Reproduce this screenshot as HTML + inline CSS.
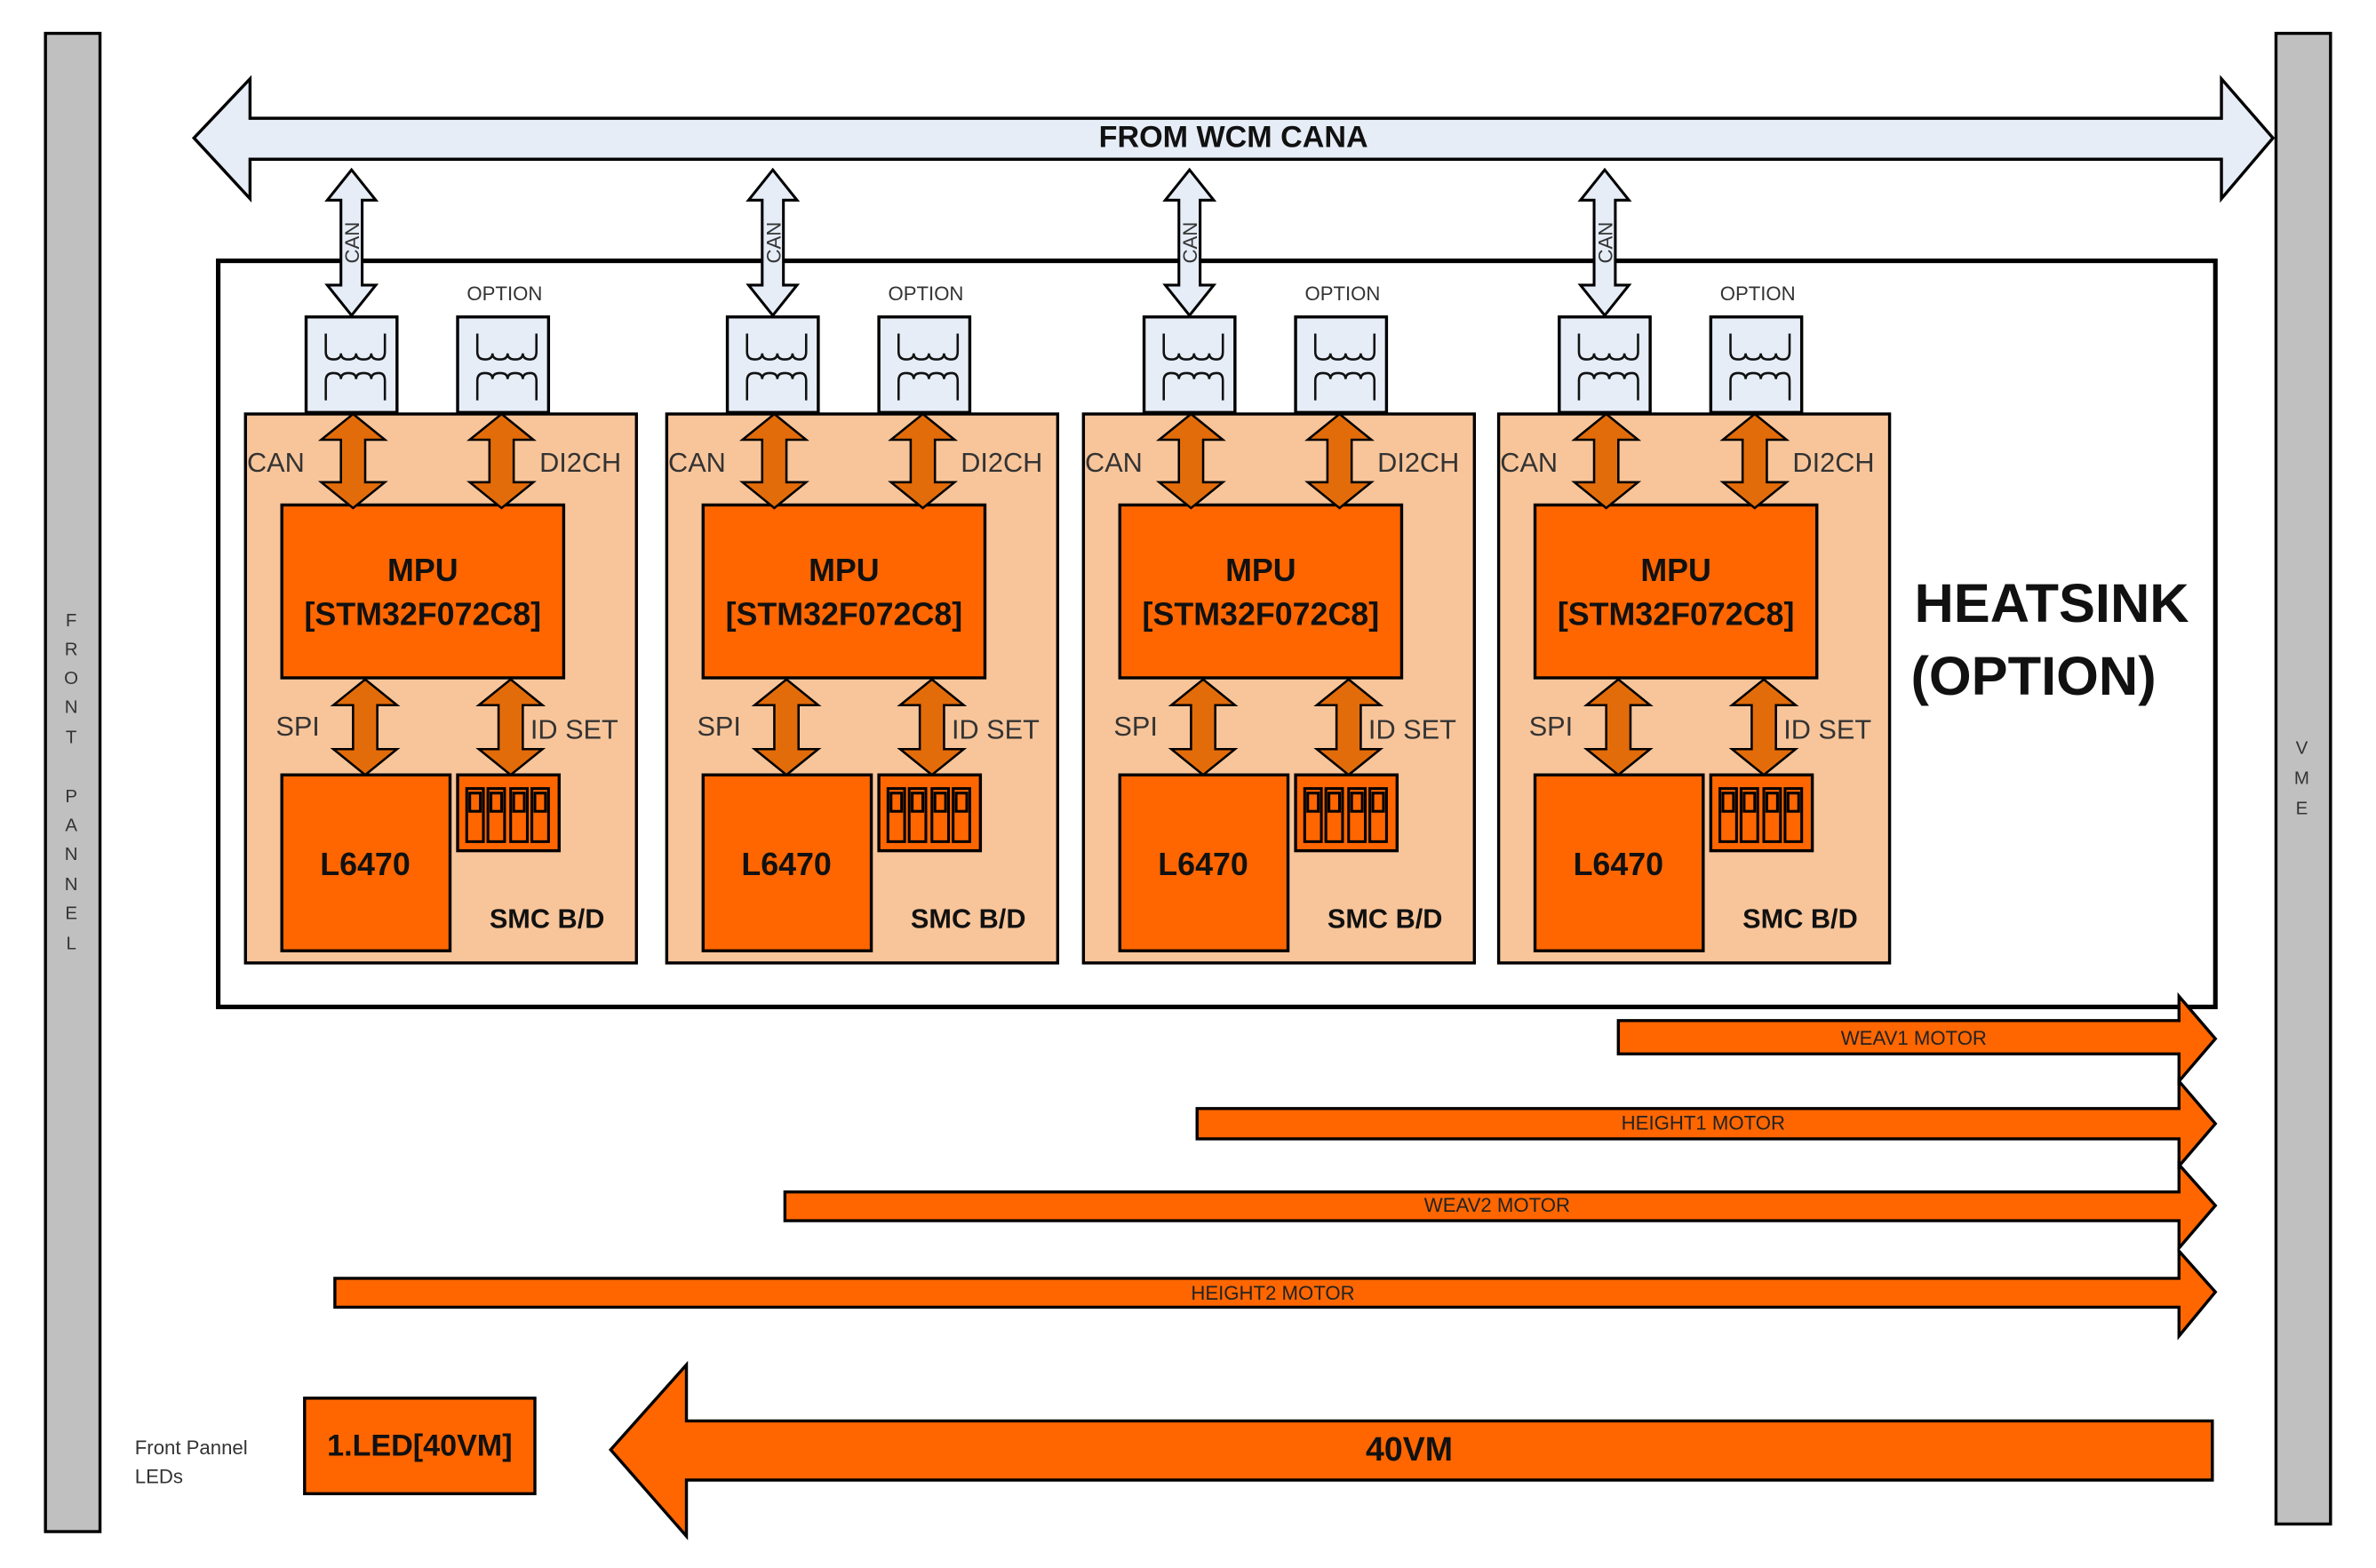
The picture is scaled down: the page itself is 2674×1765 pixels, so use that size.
<!DOCTYPE html>
<html><head><meta charset="utf-8"><style>
html,body{margin:0;padding:0;background:#fff;}
svg{display:block;}
text{font-family:"Liberation Sans",Arial,sans-serif;}
</style></head><body>
<svg width="2674" height="1765" viewBox="0 0 1568 1034" preserveAspectRatio="none" xmlns="http://www.w3.org/2000/svg">
<defs>
<g id="mod">
  <rect x="202" y="209" width="60" height="63" fill="#e6edf7" stroke="#000" stroke-width="2"/>
  <rect x="302" y="209" width="60" height="63" fill="#e6edf7" stroke="#000" stroke-width="2"/>
  <g fill="none" stroke="#111" stroke-width="1.5">
    <path d="M215,220 v12 q0,5 5,5 q5,0 5,-4 q0,4 5,4 q5,0 5,-4 q0,4 5,4 q5,0 5,-4 q0,4 5,4 q4,0 4,-5 v-12"/>
    <path d="M215,264 v-13 q0,-5 5,-5 q5,0 5,4 q0,-4 5,-4 q5,0 5,4 q0,-4 5,-4 q5,0 5,4 q0,-4 5,-4 q4,0 4,5 v13"/>
    <path d="M315,220 v12 q0,5 5,5 q5,0 5,-4 q0,4 5,4 q5,0 5,-4 q0,4 5,4 q5,0 5,-4 q0,4 5,4 q4,0 4,-5 v-12"/>
    <path d="M315,264 v-13 q0,-5 5,-5 q5,0 5,4 q0,-4 5,-4 q5,0 5,4 q0,-4 5,-4 q5,0 5,4 q0,-4 5,-4 q4,0 4,5 v13"/>
  </g>
  <text x="333" y="198" font-size="13" text-anchor="middle" fill="#333">OPTION</text>
  <polygon points="232,112 248,132 239,132 239,188 248,188 232,208 216,188 225,188 225,132 216,132" fill="#e6edf7" stroke="#000" stroke-width="1.8"/>
  <text x="0" y="0" font-size="13" fill="#333" text-anchor="middle" transform="translate(237,160) rotate(-90)">CAN</text>
  <rect x="162" y="273" width="258" height="362" fill="#f8c59a" stroke="#000" stroke-width="2"/>
  <rect x="186" y="333" width="186" height="114" fill="#ff6600" stroke="#000" stroke-width="2"/>
  <text x="279" y="383" font-size="21" font-weight="bold" text-anchor="middle" fill="#111">MPU</text>
  <text x="279" y="412" font-size="21" font-weight="bold" text-anchor="middle" fill="#111">[STM32F072C8]</text>
  <g fill="#e36c0a" stroke="#000" stroke-width="1.5">
    <polygon points="233,273 254,290 241,290 241,318 254,318 233,335 212,318 225,318 225,290 212,290"/>
    <polygon points="331,273 352,290 339,290 339,318 352,318 331,335 310,318 323,318 323,290 310,290"/>
    <polygon points="241,448 262,465 249,465 249,494 262,494 241,511 220,494 233,494 233,465 220,465"/>
    <polygon points="337,448 358,465 345,465 345,494 358,494 337,511 316,494 329,494 329,465 316,465"/>
  </g>
  <text x="163" y="311" font-size="18" fill="#333">CAN</text>
  <text x="356" y="311" font-size="18" fill="#333">DI2CH</text>
  <text x="182" y="485" font-size="18" fill="#333">SPI</text>
  <text x="350" y="487" font-size="18" fill="#333">ID SET</text>
  <rect x="186" y="511" width="111" height="116" fill="#ff6600" stroke="#000" stroke-width="2"/>
  <text x="241" y="577" font-size="21" font-weight="bold" text-anchor="middle" fill="#111">L6470</text>
  <rect x="302" y="511" width="67" height="50" fill="#ff6600" stroke="#000" stroke-width="2"/>
  <g fill="none" stroke="#000" stroke-width="1.8">
    <rect x="308" y="520" width="11" height="35"/><rect x="310" y="523" width="7" height="12"/>
    <rect x="322" y="520" width="11" height="35"/><rect x="324" y="523" width="7" height="12"/>
    <rect x="337" y="520" width="11" height="35"/><rect x="339" y="523" width="7" height="12"/>
    <rect x="351" y="520" width="11" height="35"/><rect x="353" y="523" width="7" height="12"/>
  </g>
  <text x="361" y="612" font-size="18" font-weight="bold" text-anchor="middle" fill="#111">SMC B/D</text>
</g>
</defs>

<rect x="30" y="22" width="36" height="988" fill="#c0c0c0" stroke="#000" stroke-width="2"/>
<g font-size="12" fill="#333" text-anchor="middle">
  <text x="47" y="413">F</text><text x="47" y="432">R</text><text x="47" y="451">O</text><text x="47" y="470">N</text><text x="47" y="490">T</text>
  <text x="47" y="529">P</text><text x="47" y="548">A</text><text x="47" y="567">N</text><text x="47" y="587">N</text><text x="47" y="606">E</text><text x="47" y="626">L</text>
</g>
<rect x="1502" y="22" width="36" height="983" fill="#c0c0c0" stroke="#000" stroke-width="2"/>
<g font-size="12" fill="#333" text-anchor="middle">
  <text x="1519" y="497">V</text><text x="1519" y="517">M</text><text x="1519" y="537">E</text>
</g>

<polygon points="128,91 165,52 165,78 1466,78 1466,52 1500,91 1466,131 1466,105 165,105 165,131" fill="#e6edf7" stroke="#000" stroke-width="2"/>
<text x="814" y="97" font-size="20" font-weight="bold" text-anchor="middle" fill="#111">FROM WCM CANA</text>

<rect x="144" y="172" width="1318" height="492" fill="none" stroke="#000" stroke-width="3"/>
<text x="1354" y="410" font-size="36" font-weight="bold" text-anchor="middle" fill="#111">HEATSINK</text>
<text x="1342" y="458" font-size="36" font-weight="bold" text-anchor="middle" fill="#111">(OPTION)</text>

<use href="#mod"/>
<use href="#mod" transform="translate(278,0)"/>
<use href="#mod" transform="translate(553,0)"/>
<use href="#mod" transform="translate(827,0)"/>

<g fill="#ff6600" stroke="#000" stroke-width="2">
  <polygon points="1068,673 1438,673 1438,657 1462,685 1438,713 1438,695 1068,695"/>
  <polygon points="790,731 1438,731 1438,713 1462,741 1438,769 1438,751 790,751"/>
  <polygon points="518,786 1438,786 1438,768 1462,795 1438,823 1438,805 518,805"/>
  <polygon points="221,843 1438,843 1438,825 1462,852 1438,881 1438,862 221,862"/>
  <polygon points="403,956 453,900 453,937 1460,937 1460,976 453,976 453,1013"/>
</g>
<g font-size="13" fill="#222" text-anchor="middle">
  <text x="1263" y="689">WEAV1 MOTOR</text>
  <text x="1124" y="745">HEIGHT1 MOTOR</text>
  <text x="988" y="799">WEAV2 MOTOR</text>
  <text x="840" y="857">HEIGHT2 MOTOR</text>
</g>
<text x="930" y="963" font-size="22" font-weight="bold" text-anchor="middle" fill="#111">40VM</text>

<rect x="201" y="922" width="152" height="63" fill="#ff6600" stroke="#000" stroke-width="2"/>
<text x="277" y="960" font-size="20" font-weight="bold" text-anchor="middle" fill="#111">1.LED[40VM]</text>
<text x="89" y="959" font-size="13" fill="#333">Front Pannel</text>
<text x="89" y="978" font-size="13" fill="#333">LEDs</text>
</svg>
</body></html>
